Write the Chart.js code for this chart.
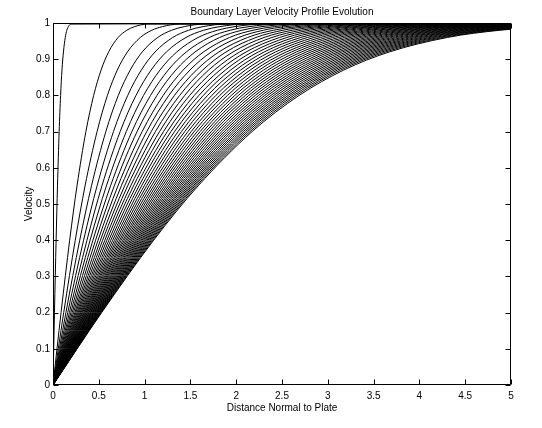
<!DOCTYPE html>
<html>
<head>
<meta charset="utf-8">
<title>Boundary Layer Velocity Profile Evolution</title>
<script src="https://cdn.jsdelivr.net/npm/chart.js@4.4.1/dist/chart.umd.min.js"></script>
<style>
  html, body { margin: 0; padding: 0; background: #fff; }
  #wrap { width: 542px; height: 428px; }
</style>
</head>
<body>
<div id="wrap"><canvas id="profiles"></canvas></div>
<script>
// velocity levels shared by every profile (y values)
const velocityLevels = [0, 0.2, 0.4, 0.55, 0.7, 0.8, 0.87, 0.92, 0.96, 0.98, 0.99, 0.997, 1];

// distance normal to plate where each profile reaches the level above,
// one row per plotted time (values past 5 run off the axes)
const profileX = [
  [0, 0.016, 0.034, 0.049, 0.067, 0.083, 0.098, 0.114, 0.134, 0.151, 0.168, 0.193, 8],
  [0, 0.088, 0.182, 0.262, 0.359, 0.444, 0.525, 0.607, 0.711, 0.806, 0.892, 1.028, 8],
  [0, 0.117, 0.243, 0.350, 0.481, 0.594, 0.702, 0.812, 0.953, 1.079, 1.195, 1.376, 8],
  [0, 0.141, 0.292, 0.420, 0.577, 0.713, 0.843, 0.974, 1.143, 1.295, 1.433, 1.650, 8],
  [0, 0.161, 0.334, 0.481, 0.660, 0.816, 0.964, 1.114, 1.307, 1.481, 1.639, 1.887, 8],
  [0, 0.179, 0.371, 0.534, 0.733, 0.906, 1.071, 1.238, 1.452, 1.645, 1.821, 2.097, 8],
  [0, 0.195, 0.405, 0.583, 0.800, 0.989, 1.168, 1.351, 1.584, 1.795, 1.987, 2.288, 8],
  [0, 0.210, 0.436, 0.628, 0.861, 1.065, 1.258, 1.455, 1.706, 1.933, 2.140, 2.464, 8],
  [0, 0.224, 0.465, 0.669, 0.918, 1.135, 1.341, 1.551, 1.819, 2.061, 2.282, 2.628, 8],
  [0, 0.238, 0.492, 0.709, 0.973, 1.203, 1.421, 1.643, 1.927, 2.183, 2.416, 2.783, 8],
  [0, 0.250, 0.518, 0.746, 1.023, 1.265, 1.495, 1.728, 2.027, 2.296, 2.542, 2.927, 8],
  [0, 0.262, 0.542, 0.782, 1.072, 1.326, 1.566, 1.811, 2.124, 2.407, 2.664, 3.068, 8],
  [0, 0.273, 0.566, 0.815, 1.118, 1.383, 1.634, 1.889, 2.216, 2.510, 2.779, 3.200, 8],
  [0, 0.284, 0.588, 0.848, 1.163, 1.438, 1.699, 1.965, 2.304, 2.611, 2.890, 3.328, 8],
  [0, 0.295, 0.610, 0.879, 1.206, 1.492, 1.762, 2.038, 2.390, 2.708, 2.997, 3.452, 8],
  [0, 0.305, 0.631, 0.910, 1.248, 1.543, 1.823, 2.108, 2.473, 2.801, 3.101, 3.571, 8],
  [0, 0.315, 0.652, 0.939, 1.288, 1.593, 1.882, 2.176, 2.553, 2.892, 3.201, 3.687, 8],
  [0, 0.324, 0.672, 0.967, 1.327, 1.641, 1.939, 2.242, 2.630, 2.979, 3.298, 3.798, 8],
  [0, 0.334, 0.691, 0.995, 1.365, 1.688, 1.995, 2.306, 2.705, 3.065, 3.393, 3.907, 8],
  [0, 0.343, 0.709, 1.022, 1.402, 1.734, 2.048, 2.368, 2.778, 3.147, 3.484, 4.012, 8],
  [0, 0.351, 0.728, 1.048, 1.438, 1.778, 2.101, 2.429, 2.849, 3.227, 3.573, 4.114, 8],
  [0, 0.360, 0.745, 1.074, 1.473, 1.821, 2.152, 2.488, 2.919, 3.306, 3.660, 4.215, 8],
  [0, 0.368, 0.763, 1.099, 1.508, 1.864, 2.202, 2.547, 2.987, 3.384, 3.746, 4.314, 8],
  [0, 0.376, 0.779, 1.123, 1.541, 1.905, 2.250, 2.602, 3.052, 3.458, 3.828, 4.408, 8],
  [0, 0.385, 0.796, 1.147, 1.574, 1.946, 2.299, 2.658, 3.117, 3.532, 3.910, 4.502, 8],
  [0, 0.392, 0.812, 1.170, 1.606, 1.985, 2.346, 2.712, 3.181, 3.604, 3.990, 4.595, 8],
  [0, 0.400, 0.828, 1.193, 1.637, 2.024, 2.392, 2.766, 3.244, 3.675, 4.068, 4.685, 8],
  [0, 0.408, 0.844, 1.216, 1.668, 2.063, 2.437, 2.818, 3.305, 3.744, 4.145, 4.773, 8],
  [0, 0.415, 0.859, 1.238, 1.698, 2.100, 2.481, 2.868, 3.364, 3.811, 4.219, 4.859, 8],
  [0, 0.422, 0.874, 1.260, 1.728, 2.137, 2.525, 2.919, 3.424, 3.879, 4.294, 4.945, 8],
  [0, 0.429, 0.889, 1.281, 1.757, 2.173, 2.567, 2.969, 3.482, 3.945, 4.367, 5.029, 8],
  [0, 0.436, 0.904, 1.302, 1.786, 2.208, 2.609, 3.017, 3.539, 4.009, 4.438, 5.110, 8],
  [0, 0.443, 0.918, 1.323, 1.815, 2.244, 2.651, 3.065, 3.595, 4.073, 4.509, 5.192, 8],
  [0, 0.450, 0.932, 1.343, 1.843, 2.278, 2.691, 3.112, 3.650, 4.136, 4.578, 5.272, 8],
  [0, 0.457, 0.946, 1.363, 1.870, 2.312, 2.731, 3.158, 3.704, 4.196, 4.645, 5.349, 8],
  [0, 0.464, 0.960, 1.383, 1.897, 2.345, 2.771, 3.204, 3.758, 4.257, 4.713, 5.427, 8],
  [0, 0.470, 0.973, 1.402, 1.924, 2.379, 2.810, 3.250, 3.812, 4.318, 4.780, 5.505, 8],
  [0, 0.477, 0.987, 1.422, 1.950, 2.411, 2.849, 3.294, 3.864, 4.377, 4.846, 5.580, 8],
  [0, 0.483, 1.000, 1.440, 1.976, 2.443, 2.886, 3.338, 3.915, 4.435, 4.909, 5.654, 8],
  [0, 0.489, 1.013, 1.459, 2.002, 2.475, 2.924, 3.381, 3.965, 4.493, 4.973, 5.727, 8],
  [0, 0.495, 1.026, 1.478, 2.027, 2.507, 2.961, 3.424, 4.016, 4.550, 5.037, 5.800, 8],
  [0, 0.501, 1.038, 1.496, 2.052, 2.537, 2.998, 3.466, 4.066, 4.606, 5.099, 5.872, 8],
  [0, 0.508, 1.051, 1.514, 2.077, 2.568, 3.034, 3.508, 4.115, 4.662, 5.161, 5.943, 8],
  [0, 0.513, 1.063, 1.532, 2.101, 2.598, 3.069, 3.549, 4.163, 4.716, 5.221, 6.012, 8],
  [0, 0.519, 1.075, 1.549, 2.125, 2.628, 3.105, 3.590, 4.211, 4.771, 5.281, 6.081, 8],
  [0, 0.525, 1.088, 1.567, 2.150, 2.658, 3.140, 3.631, 4.259, 4.825, 5.341, 6.151, 8],
  [0, 0.531, 1.099, 1.584, 2.173, 2.687, 3.174, 3.671, 4.305, 4.877, 5.399, 6.218, 8]
];

const xTicks = [0, 0.5, 1, 1.5, 2, 2.5, 3, 3.5, 4, 4.5, 5];
const yTicks = [0, 0.1, 0.2, 0.3, 0.4, 0.5, 0.6, 0.7, 0.8, 0.9, 1];

const FONT = { family: 'Arial, "Liberation Sans", Helvetica, sans-serif', size: 10, weight: 'normal' };
const TICK = 5;

// matlab style box with inward ticks on all four sides
const matlabAxes = {
  id: 'matlabAxes',
  afterDatasetsDraw(chart) {
    const { ctx, chartArea: a, scales: { x, y } } = chart;
    const L = Math.round(a.left) + 0.5, R = Math.round(a.right) - 0.5;
    const T = Math.round(a.top) + 0.5, B = Math.round(a.bottom) - 0.5;
    ctx.save();
    ctx.strokeStyle = '#000';
    ctx.lineWidth = 1;
    ctx.beginPath();
    ctx.rect(L, T, R - L, B - T);
    xTicks.forEach(v => {
      const px = Math.round(x.getPixelForValue(v)) + 0.5;
      ctx.moveTo(px, B); ctx.lineTo(px, B - TICK);
      ctx.moveTo(px, T); ctx.lineTo(px, T + TICK);
    });
    yTicks.forEach(v => {
      const py = Math.round(y.getPixelForValue(v)) + 0.5;
      ctx.moveTo(L, py); ctx.lineTo(L + TICK, py);
      ctx.moveTo(R, py); ctx.lineTo(R - TICK, py);
    });
    ctx.stroke();
    ctx.restore();
  }
};

const datasets = profileX.map(row => ({
  data: row.map((d, i) => ({ x: d, y: velocityLevels[i] })),
  borderColor: '#000',
  borderWidth: 1,
  pointRadius: 0,
  fill: false,
  cubicInterpolationMode: 'monotone'
}));

new Chart(document.getElementById('profiles'), {
  type: 'line',
  data: { datasets },
  options: {
    responsive: true,
    maintainAspectRatio: false,
    animation: false,
    events: [],
    layout: { padding: { left: 0, right: 31, top: 0, bottom: 0 } },
    plugins: {
      legend: { display: false },
      tooltip: { enabled: false },
      title: {
        display: true,
        text: 'Boundary Layer Velocity Profile Evolution',
        color: '#000',
        font: FONT,
        fullSize: false,
        padding: { top: 6, bottom: 5 }
      }
    },
    scales: {
      x: {
        type: 'linear', min: 0, max: 5,
        grid: { display: false, drawTicks: false }, border: { display: false },
        afterBuildTicks: s => { s.ticks = xTicks.map(v => ({ value: v })); },
        ticks: { color: '#000', font: FONT, padding: 5, maxRotation: 0, autoSkip: false, callback: v => String(v) },
        title: { display: true, text: 'Distance Normal to Plate', color: '#000', font: FONT, padding: { top: 0, bottom: 14 } },
        afterFit: s => { s.height = 43; s.paddingLeft = 0; s.paddingRight = 0; }
      },
      y: {
        type: 'linear', min: 0, max: 1,
        grid: { display: false, drawTicks: false }, border: { display: false },
        afterBuildTicks: s => { s.ticks = yTicks.map(v => ({ value: v })); },
        ticks: { color: '#000', font: FONT, padding: 3, autoSkip: false, callback: v => String(v) },
        title: { display: true, text: 'Velocity', color: '#000', font: FONT, padding: { top: 23, bottom: 0 } },
        afterFit: s => { s.width = 53; s.paddingTop = 0; s.paddingBottom = 0; }
      }
    }
  },
  plugins: [matlabAxes]
});
</script>
</body>
</html>
